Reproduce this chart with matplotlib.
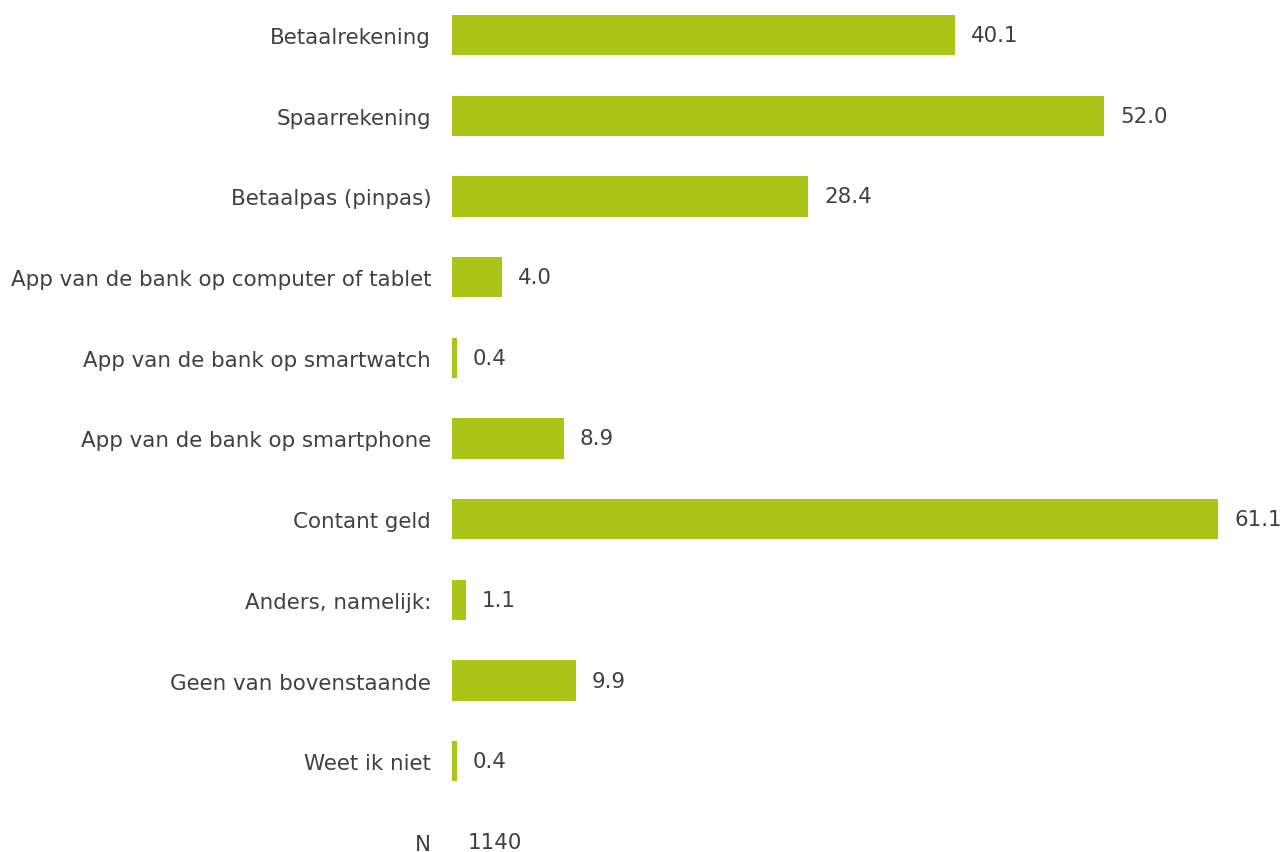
import matplotlib.pyplot as plt

categories = [
    'Betaalrekening',
    'Spaarrekening',
    'Betaalpas (pinpas)',
    'App van de bank op computer of tablet',
    'App van de bank op smartwatch',
    'App van de bank op smartphone',
    'Contant geld',
    'Anders, namelijk:',
    'Geen van bovenstaande',
    'Weet ik niet',
]
values = [40.1, 52.0, 28.4, 4.0, 0.4, 8.9, 61.1, 1.1, 9.9, 0.4]
n_label = 'N'
n_value = 1140

bar_color = '#aac418'
text_color = '#404040'

plt.rcParams['font.family'] = ['DejaVu Sans']

fig = plt.figure(figsize=(12.84, 8.53), dpi=100)
ax = fig.add_axes([452 / 1284, 0, 1 - 452 / 1284, 1])

pos = list(range(len(categories)))
ax.barh(pos, values, height=0.5, color=bar_color)

for p, v in zip(pos, values):
    ax.annotate(f'{v:.1f}', (v, p), xytext=(11.5, 0), textcoords='offset points',
                va='center', ha='left', fontsize=15.4, color=text_color)

n_pos = len(categories)
ax.annotate(str(n_value), (0, n_pos), xytext=(11.5, 0), textcoords='offset points',
            va='center', ha='left', fontsize=15.4, color=text_color)

ax.set_yticks(pos + [n_pos])
ax.set_yticklabels(categories + [n_label], fontsize=15.4, color=text_color)
ax.tick_params(axis='y', length=0, pad=15)
ax.set_xticks([])
ax.set_xlim(0, 66.35)
ax.set_ylim(10.124, -0.446)
for s in ax.spines.values():
    s.set_visible(False)

fig.savefig('out.png', dpi=100)
